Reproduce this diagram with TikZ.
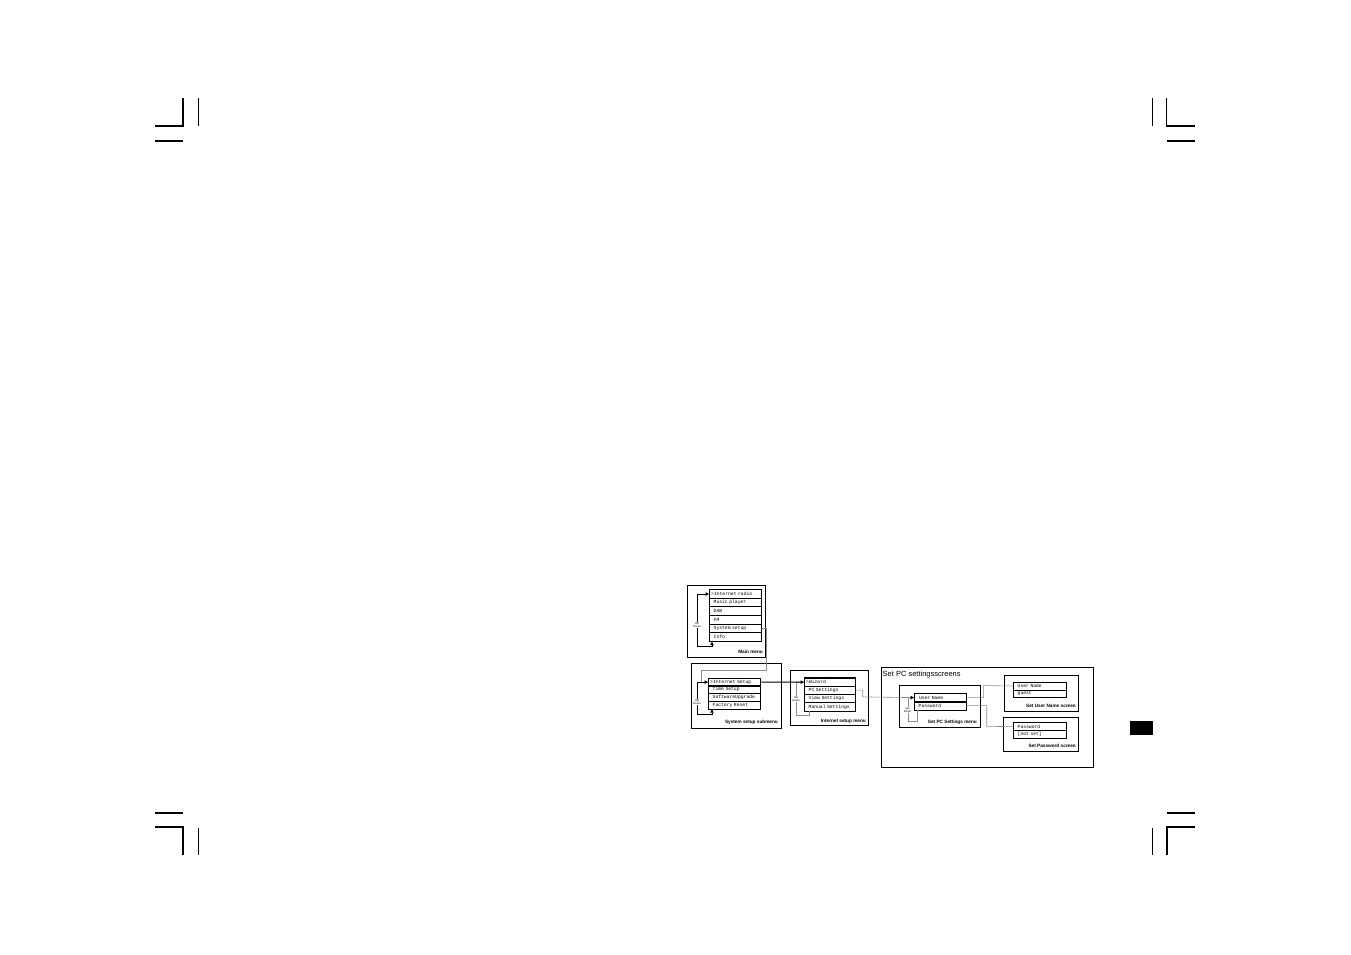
\documentclass[tikz,border=0pt]{standalone}
\usepackage{fontspec}
\newfontfamily\dmono{Liberation Mono}
\newfontfamily\dsans{Liberation Sans}
\usetikzlibrary{arrows.meta,calc}
\tikzset{
 box/.style={draw, line width=0.9pt, anchor=north west, inner sep=0pt},
 rowbox/.style={draw, line width=0.7pt, inner xsep=1.5pt, inner ysep=0pt, anchor=north west, text width=#1, align=left, font=\dmono\fontsize{4.7}{5}\selectfont},
 sel/.style={line width=1.4pt},
 lbl/.style={anchor=base east, inner sep=0pt, font=\dsans\bfseries\fontsize{4.7}{5}\selectfont},
 updown/.style={fill=white, inner sep=0.4pt, align=center, font=\dsans\fontsize{2.8}{3}\selectfont},
 tip/.style={-{Triangle[length=3.5pt,width=3.5pt,color=black]}},
 tips/.style={{Triangle[length=3.5pt,width=3.5pt]}-{Triangle[length=3.5pt,width=3.5pt]}},
 bline/.style={draw=black, line width=0.6pt},
 gline/.style={draw=black!45, line width=0.6pt},
 crop/.style={line width=1.1pt, line cap=butt},
}
\begin{document}
\begin{tikzpicture}[x=1pt,y=-1pt]
\useasboundingbox (0,0) rectangle (1351,954);
% crop marks
\draw[crop] (183,98) -- (183,126) -- (155,126);
\draw[crop] (198.7,98) -- (198.7,126);
\draw[crop] (155,141) -- (183,141);
\draw[crop] (1152.3,98) -- (1152.3,126);
\draw[crop] (1166.3,98) -- (1166.3,126) -- (1195,126);
\draw[crop] (1167,141) -- (1195,141);
\draw[crop] (155,813) -- (183,813);
\draw[crop] (155,827) -- (183,827) -- (183,855);
\draw[crop] (198.7,828) -- (198.7,855);
\draw[crop] (1167,813) -- (1195,813);
\draw[crop] (1195,827) -- (1167,827) -- (1167,855);
\draw[crop] (1152.3,828) -- (1152.3,855);
\fill[black] (1130,721) rectangle (1152.7,734.7);

% Main menu
\node[box, minimum width=78pt, minimum height=72pt] (mainbox) at (687,585) {};
\node[rowbox=49pt, minimum height=8.667pt, sel] (m1) at (709,589) {>Internet radio};
\node[rowbox=49pt, minimum height=8.667pt] (m2) at (709,597.667) {\hphantom{>}Music player};
\node[rowbox=49pt, minimum height=8.667pt] (m3) at (709,606.333) {\hphantom{>}DAB};
\node[rowbox=49pt, minimum height=8.667pt] (m4) at (709,615) {\hphantom{>}FM};
\node[rowbox=49pt, minimum height=8.667pt] (m5) at (709,623.667) {\hphantom{>}System setup};
\node[rowbox=49pt, minimum height=8.667pt] (m6) at (709,632.333) {\hphantom{>}Info};
\node[lbl] (mainlbl) at (763,653.7) {Main menu};
\coordinate (ma) at (697,646);
\draw[bline, tips] (m1.west) -| (ma) -| ($(m6.south west)+(3,0)$);
\node[updown] (mud) at (697,625) {Up/\\Down};

% System setup submenu
\node[box, minimum width=90pt, minimum height=65pt] (sysbox) at (691,663) {};
\node[rowbox=49pt, minimum height=7.75pt, sel] (s1) at (708,677.5) {>Internet Setup};
\node[rowbox=49pt, minimum height=7.75pt] (s2) at (708,685.25) {\hphantom{>}Time Setup};
\node[rowbox=49pt, minimum height=7.75pt] (s3) at (708,693) {\hphantom{>}SoftwareUpgrade};
\node[rowbox=49pt, minimum height=7.75pt] (s4) at (708,700.75) {\hphantom{>}Factory Reset};
\node[lbl] (syslbl) at (778,723.4) {System setup submenu};
\coordinate (k1) at (766,670);
\coordinate (k2) at (701,670);
\draw[gline] (m5.east) -| (k1) -- (k2) |- (s1.west);
\coordinate (sa) at (697,714);
\draw[bline, tips] (s1.west) -| (sa) -| ($(s4.south west)+(4,0)$);
\node[updown] (sud) at (697,702) {Up/\\Down};

% Internet setup menu
\node[box, minimum width=78pt, minimum height=55pt] (netbox) at (790,670) {};
\node[rowbox=48pt, minimum height=8.375pt, sel] (i1) at (804,677.2) {>Wizard};
\node[rowbox=48pt, minimum height=8.375pt] (i2) at (804,685.575) {\hphantom{>}PC Settings};
\node[rowbox=48pt, minimum height=8.375pt] (i3) at (804,693.95) {\hphantom{>}View Settings};
\node[rowbox=48pt, minimum height=8.375pt] (i4) at (804,702.325) {\hphantom{>}Manual Settings};
\node[lbl] (netlbl) at (866,722.7) {Internet setup menu};
\coordinate (ia) at (796,715);
\draw[gline] (i1.west) -| (ia) -| ($(i4.south west)+(5,0)$);
\node[updown] (iud) at (796,699) {Up/\\Down};
\draw[tip, line width=1pt] (s1.east) -- (i1.west);

% Set PC settings screens
\node[box, minimum width=212pt, minimum height=100pt] (scrbox) at (881,667) {};
\node[anchor=base west, inner sep=0pt, font=\dsans\fontsize{7.5}{8}\selectfont] (scrtitle) at (882.5,676.2) {Set PC settingsscreens};
\node[box, minimum width=81pt, minimum height=42pt] (pcbox) at (899,685) {};
\node[rowbox=49pt, minimum height=8.4pt, sel] (p1) at (914,692.7) {\hphantom{>}User Name};
\node[rowbox=49pt, minimum height=8.4pt] (p2) at (914,701.1) {\hphantom{>}Password};
\node[lbl] (pclbl) at (977,723) {Set PC Settings menu};
\coordinate (pa) at (908.5,721.5);
\draw[gline] (p1.west) -| (pa) -| ($(p2.south west)+(3,0)$);
\node[updown] (pud) at (907.5,710) {Up/\\Down};
\coordinate (k3) at (862.7,696.9);
\draw[gline, tip] (i2.east) -| (k3) -- (p1.west);

% User Name screen
\node[box, minimum width=74.5pt, minimum height=36pt] (userbox) at (1003.5,675) {};
\node[rowbox=50pt, minimum height=7.8pt] (u1) at (1013,681.7) {\hphantom{>}User Name};
\node[rowbox=50pt, minimum height=7.8pt] (u2) at (1013,689.5) {\hphantom{>}guest};
\node[lbl] (userlbl) at (1076,707.4) {Set User Name screen};
% Password screen
\node[box, minimum width=75.5pt, minimum height=34.5pt] (passbox) at (1002.5,716.5) {};
\node[rowbox=50pt, minimum height=8pt] (w1) at (1013,722.3) {\hphantom{>}Password};
\node[rowbox=50pt, minimum height=8pt] (w2) at (1013,730.3) {\hphantom{>}[not set]};
\node[lbl] (passlbl) at (1076,747.7) {Set Password screen};
\coordinate (k4) at (983.3,685.6);
\draw[gline] (p1.east) -| (k4) -- (u1.west);
\coordinate (k5) at (986.7,726.3);
\draw[gline] (p2.east) -| (k5) -- (w1.west);
\end{tikzpicture}
\end{document}
